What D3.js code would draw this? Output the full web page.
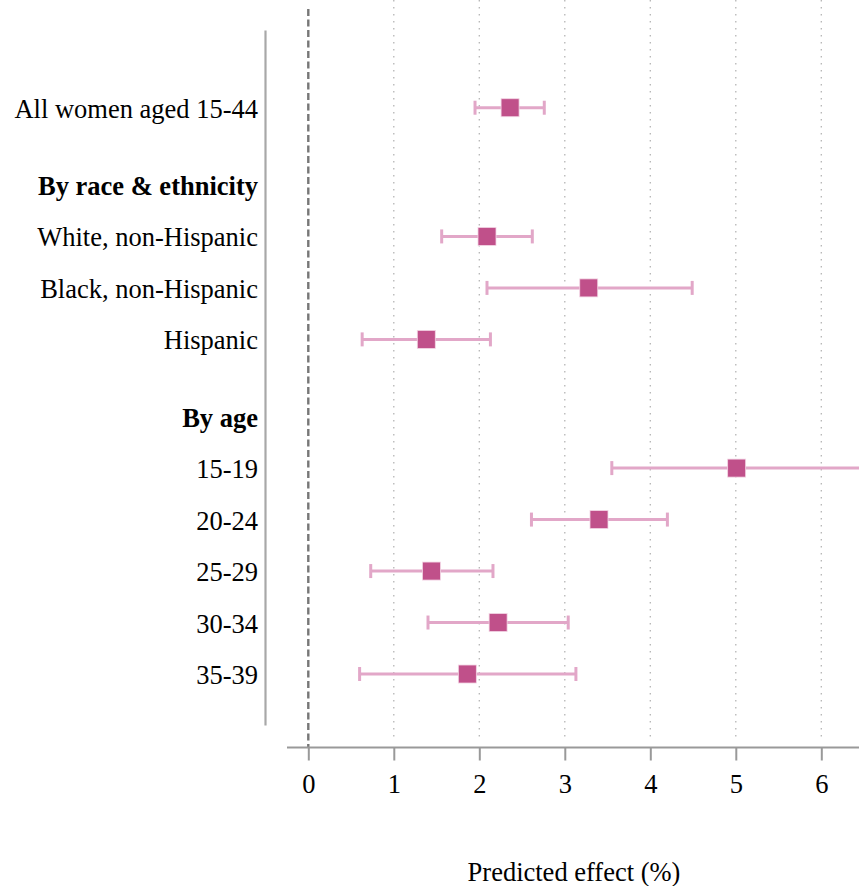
<!DOCTYPE html>
<html>
<head>
<meta charset="utf-8">
<script src="https://cdn.jsdelivr.net/npm/d3@7"></script>
<style>
html,body{margin:0;padding:0;background:#fff;}
svg{display:block;font-family:"Liberation Serif","Times New Roman",serif;}
</style>
</head>
<body>
<svg id="chart" width="859" height="886"></svg>
<script>
// Row labels (top to bottom); header rows have null values
const labels = ["All women aged 15-44","By race & ethnicity","White, non-Hispanic","Black, non-Hispanic","Hispanic","By age","15-19","20-24","25-29","30-34","35-39"];
const isHeader = [false,true,false,false,false,true,false,false,false,false,false];
const rowPos = [0,1.5,2.5,3.5,4.5,6,7,8,9,10,11];
const estimate = [2.36,null,2.09,3.28,1.38,null,5.01,3.40,1.44,2.22,1.86];
const lower    = [1.95,null,1.56,2.09,0.63,null,3.55,2.61,0.73,1.40,0.60];
const upper    = [2.76,null,2.62,4.49,2.13,null,7.40,4.20,2.16,3.04,3.13];
const xTicks = [0,1,2,3,4,5,6];
const xTitle = "Predicted effect (%)";

const FS = 26.5;
const svg = d3.select("#chart");
const x = d3.scaleLinear().domain([0,6]).range([308.3,821.3]);
const y = d3.scaleLinear().domain([-1.5,12]).range([30.5,725.5]);

const rows = labels.map((l,i)=>({label:l,header:isHeader[i],pos:rowPos[i],est:estimate[i],lo:lower[i],hi:upper[i]}));
const data = rows.filter(d=>!d.header);

// gridlines (dotted)
svg.append("g").selectAll("line").data(xTicks.filter(t=>t!==0)).join("line")
  .attr("x1",d=>x(d)).attr("x2",d=>x(d)).attr("y1",0).attr("y2",738)
  .attr("stroke","#b5b5b5").attr("stroke-width",1.3).attr("stroke-dasharray","1.5,5.5");

// zero reference line (dashed)
svg.append("line").attr("x1",x(0)).attr("x2",x(0)).attr("y1",9).attr("y2",747)
  .attr("stroke","#777").attr("stroke-width",2.4).attr("stroke-dasharray","7,3.5");

// x axis
const xAxis = d3.axisBottom(x).tickValues(xTicks).tickFormat(d3.format("d")).tickSize(13).tickPadding(14);
const gx = svg.append("g").attr("transform","translate(0,747.5)").call(xAxis);
gx.select(".domain").remove();
gx.append("line").attr("x1",287).attr("x2",859).attr("stroke","#999").attr("stroke-width",2);
gx.selectAll(".tick line").attr("stroke","#999").attr("stroke-width",2);
gx.selectAll(".tick text").attr("fill","#000").attr("font-size",FS).attr("font-family","Liberation Serif, serif");

// y axis line
svg.append("line").attr("x1",265.5).attr("x2",265.5).attr("y1",y(-1.5)).attr("y2",y(12))
  .attr("stroke","#a8a8a8").attr("stroke-width",2.2);

// row labels
svg.append("g").selectAll("text").data(rows).join("text")
  .attr("x",258).attr("y",d=>y(d.pos)).attr("dy","0.38em")
  .attr("text-anchor","end").attr("font-size",FS)
  .attr("font-weight",d=>d.header?"bold":"normal")
  .attr("fill","#000").text(d=>d.label);

// confidence intervals
const ci = svg.append("g").attr("stroke","#e2a7c8").attr("stroke-width",3);
ci.selectAll("line.ci").data(data).join("line").attr("class","ci")
  .attr("x1",d=>x(d.lo)).attr("x2",d=>x(d.hi)).attr("y1",d=>y(d.pos)).attr("y2",d=>y(d.pos));
ci.selectAll("line.lc").data(data).join("line").attr("class","lc")
  .attr("x1",d=>x(d.lo)).attr("x2",d=>x(d.lo)).attr("y1",d=>y(d.pos)-7).attr("y2",d=>y(d.pos)+7);
ci.selectAll("line.uc").data(data).join("line").attr("class","uc")
  .attr("x1",d=>x(d.hi)).attr("x2",d=>x(d.hi)).attr("y1",d=>y(d.pos)-7).attr("y2",d=>y(d.pos)+7);

// point estimates
const s = 18;
svg.append("g").selectAll("rect").data(data).join("rect")
  .attr("x",d=>x(d.est)-s/2).attr("y",d=>y(d.pos)-s/2).attr("width",s).attr("height",s)
  .attr("fill","#c0508a").attr("stroke","#f3d6e5").attr("stroke-width",0.8);

// x title
svg.append("text").attr("x",574).attr("y",872).attr("dy","0.35em")
  .attr("text-anchor","middle").attr("font-size",FS).attr("fill","#000").text(xTitle);
</script>
</body>
</html>
